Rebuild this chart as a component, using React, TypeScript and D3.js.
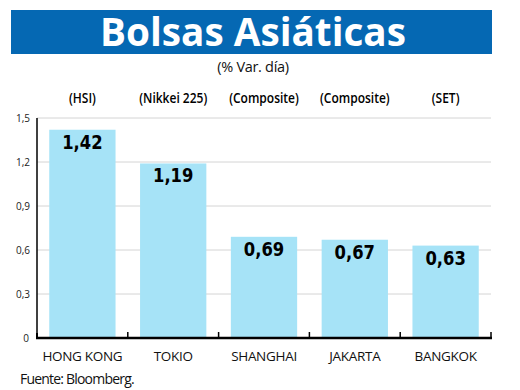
import React from "react";
import * as d3 from "d3";

const categories = ["HONG KONG", "TOKIO", "SHANGHAI", "JAKARTA", "BANGKOK"];
const indices = ["(HSI)", "(Nikkei 225)", "(Composite)", "(Composite)", "(SET)"];
const values = [1.42, 1.19, 0.69, 0.67, 0.63];
const valueLabels = ["1,42", "1,19", "0,69", "0,67", "0,63"];
const yTicks = [0, 0.3, 0.6, 0.9, 1.2, 1.5];
const yTickLabels = ["0", "0,3", "0,6", "0,9", "1,2", "1,5"];

const W = 520;
const H = 390;
const left = 37;
const right = 491;
const top = 118;
const bottom = 338;

export default function App() {
  const x = d3.scaleBand<string>().domain(categories).range([left, right]).paddingInner(0.27).paddingOuter(0.135);
  const y = d3.scaleLinear().domain([0, 1.5]).range([bottom, top]);
  const step = x.step();
  const boundaries = categories.map((_, i) => left + step * (i + 1));
  const cx = (c: string) => (x(c) as number) + x.bandwidth() / 2;
  return (
    <div style={{ position: "absolute", left: 0, top: 0 }}>
      <svg width={W} height={H} style={{ display: "block", background: "#fff" }}>
        <rect x={11} y={10} width={481} height={44} fill="#0568b3" />
        <text x={253} y={46} textAnchor="middle" fill="#fff" fontFamily="'Open Sans', sans-serif" fontWeight={700} fontSize={39} textLength={306} lengthAdjust="spacingAndGlyphs">Bolsas Asiáticas</text>
        <text x={253} y={72} textAnchor="middle" fill="#111" fontFamily="'Open Sans', sans-serif" fontSize={14.5} letterSpacing={-0.3}>(% Var. día)</text>
        {yTicks.filter(t => t > 0).map((t) => (
          <line key={t} x1={left} x2={right} y1={y(t)} y2={y(t)} stroke="#d4d4d4" strokeWidth={1} />
        ))}
        {categories.map((c, i) => (
          <rect key={c} x={x(c)} y={y(values[i])} width={x.bandwidth()} height={bottom - y(values[i])} fill="#a6e3f7" />
        ))}
        {categories.map((c, i) => (
          <g key={c} transform={`translate(${cx(c)},${y(values[i]) + 19}) scale(0.82,1)`}>
            <text x={0} y={0} textAnchor="middle" fill="#000" fontFamily="'DejaVu Sans', sans-serif" fontWeight={700} fontSize={20}>{valueLabels[i]}</text>
          </g>
        ))}
        <line x1={left} x2={left} y1={top} y2={bottom} stroke="#000" strokeWidth={1.5} />
        <line x1={left - 1} x2={right + 1} y1={bottom} y2={bottom} stroke="#000" strokeWidth={2.5} />
        <line x1={left} x2={left} y1={bottom} y2={bottom - 5} stroke="#000" strokeWidth={2} />
        {boundaries.map((b, i) => (
          <line key={i} x1={b} x2={b} y1={bottom} y2={bottom - 6} stroke="#000" strokeWidth={1.5} />
        ))}
        {yTicks.map((t, i) => (
          <text key={t} x={t === 0 ? 29 : 30} y={y(t) + 4} textAnchor="end" fill="#222" fontFamily="'Open Sans', sans-serif" fontSize={10}>{yTickLabels[i]}</text>
        ))}
        {categories.map((c, i) => (
          <g key={c} transform={`translate(${cx(c)},103) scale(0.8,1)`}>
            <text x={0} y={0} textAnchor="middle" fill="#000" fontFamily="'Open Sans', sans-serif" fontWeight={600} fontSize={15}>{indices[i]}</text>
          </g>
        ))}
        {categories.map((c) => (
          <text key={c} x={cx(c)} y={361} textAnchor="middle" fill="#111" fontFamily="'Open Sans', sans-serif" fontSize={13.5} letterSpacing={-0.3}>{c}</text>
        ))}
        <text x={20} y={384} fill="#111" fontFamily="'Open Sans', sans-serif" fontSize={14} letterSpacing={-0.8}>Fuente: Bloomberg.</text>
      </svg>
    </div>
  );
}
